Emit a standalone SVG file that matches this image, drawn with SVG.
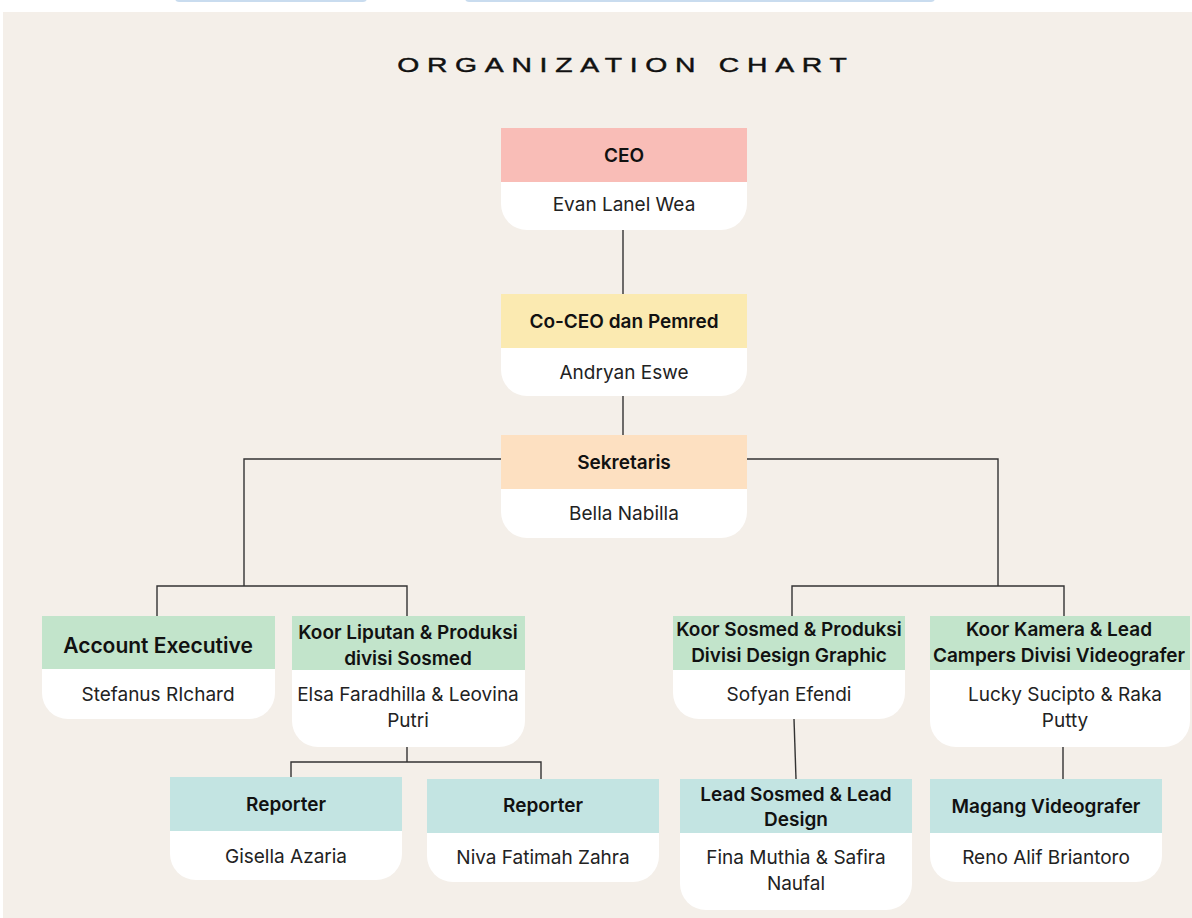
<svg xmlns="http://www.w3.org/2000/svg" width="1192" height="918" viewBox="0 0 1192 918">
<style>
.bg{fill:#f4efe9}
.body{fill:#ffffff}
.pink{fill:#f9bdb7}
.yellow{fill:#fbeab1}
.peach{fill:#fde0c1}
.green{fill:#c2e4cb}
.teal{fill:#c3e4e2}
.h{font-family:Inter,"Noto Sans",sans-serif;font-weight:600;font-size:19px;fill:#111;text-anchor:middle}
.b{font-family:Inter,"Noto Sans",sans-serif;font-size:19px;fill:#222;text-anchor:middle}
.title{font-family:"Liberation Sans",Arial,sans-serif;font-size:21px;fill:#111;stroke:#111;stroke-width:0.45;text-anchor:middle}
.conn{fill:none;stroke:#333;stroke-width:1.4}
</style>
<rect x="0" y="0" width="1192" height="918" fill="#ffffff"/>
<rect x="175" y="-6" width="192" height="8" rx="4" fill="#c9dcef"/>
<rect x="465" y="-6" width="470" height="8" rx="4" fill="#c9dcef"/>
<rect class="bg" x="3" y="12" width="1189" height="906"/>
<text class="title" transform="scale(1.35,1)" x="460.7" y="72" textLength="333" lengthAdjust="spacing">ORGANIZATION CHART</text>

<g id="connectors">
<path class="conn" d="M623 230 V294"/>
<path class="conn" d="M623 396 V435"/>
<path class="conn" d="M501 459 H244 V586"/>
<path class="conn" d="M157 616 V586 H407 V616"/>
<path class="conn" d="M747 459 H998 V586"/>
<path class="conn" d="M792 616 V586 H1064 V616"/>
<path class="conn" d="M407 747 V762"/>
<path class="conn" d="M291 777 V762 H541 V779"/>
<path class="conn" d="M794 719 L796 779"/>
<path class="conn" d="M1063 747 V779"/>
</g>

<g id="ceo">
<path class="body" d="M501 128 H747 V204 A26 26 0 0 1 721 230 H527 A26 26 0 0 1 501 204 Z"/>
<rect class="pink" x="501" y="128" width="246" height="54"/>
<text class="h" x="624" y="162">CEO</text>
<text class="b" x="624" y="211">Evan Lanel Wea</text>
</g>

<g id="coceo">
<path class="body" d="M501 294 H747 V370 A26 26 0 0 1 721 396 H527 A26 26 0 0 1 501 370 Z"/>
<rect class="yellow" x="501" y="294" width="246" height="54"/>
<text class="h" x="624" y="328">Co-CEO dan Pemred</text>
<text class="b" x="624" y="379">Andryan Eswe</text>
</g>

<g id="sekretaris">
<path class="body" d="M501 435 H747 V512 A26 26 0 0 1 721 538 H527 A26 26 0 0 1 501 512 Z"/>
<rect class="peach" x="501" y="435" width="246" height="54"/>
<text class="h" x="624" y="469">Sekretaris</text>
<text class="b" x="624" y="520">Bella Nabilla</text>
</g>

<g id="account-executive">
<path class="body" d="M42 616 H275 V693 A26 26 0 0 1 249 719 H68 A26 26 0 0 1 42 693 Z"/>
<rect class="green" x="42" y="616" width="233" height="53"/>
<text class="h" x="158" y="653" style="font-size:21px">Account Executive</text>
<text class="b" x="158" y="701">Stefanus RIchard</text>
</g>

<g id="koor-liputan">
<path class="body" d="M292 616 H525 V721 A26 26 0 0 1 499 747 H318 A26 26 0 0 1 292 721 Z"/>
<rect class="green" x="292" y="616" width="233" height="54"/>
<text class="h" x="408" y="639">Koor Liputan &amp; Produksi</text>
<text class="h" x="408" y="665">divisi Sosmed</text>
<text class="b" x="408" y="701">Elsa Faradhilla &amp; Leovina</text>
<text class="b" x="408" y="727">Putri</text>
</g>

<g id="koor-sosmed">
<path class="body" d="M673 616 H905 V693 A26 26 0 0 1 879 719 H699 A26 26 0 0 1 673 693 Z"/>
<rect class="green" x="673" y="616" width="232" height="54"/>
<text class="h" x="789" y="636">Koor Sosmed &amp; Produksi</text>
<text class="h" x="789" y="662">Divisi Design Graphic</text>
<text class="b" x="789" y="701">Sofyan Efendi</text>
</g>

<g id="koor-kamera">
<path class="body" d="M930 616 H1190 V721 A26 26 0 0 1 1164 747 H956 A26 26 0 0 1 930 721 Z"/>
<rect class="green" x="930" y="616" width="260" height="54"/>
<text class="h" x="1059" y="636">Koor Kamera &amp; Lead</text>
<text class="h" x="1059" y="662">Campers Divisi Videografer</text>
<text class="b" x="1065" y="701">Lucky Sucipto &amp; Raka</text>
<text class="b" x="1065" y="727">Putty</text>
</g>

<g id="reporter-1">
<path class="body" d="M170 777 H402 V854 A26 26 0 0 1 376 880 H196 A26 26 0 0 1 170 854 Z"/>
<rect class="teal" x="170" y="777" width="232" height="54"/>
<text class="h" x="286" y="811">Reporter</text>
<text class="b" x="286" y="863">Gisella Azaria</text>
</g>

<g id="reporter-2">
<path class="body" d="M427 779 H659 V856 A26 26 0 0 1 633 882 H453 A26 26 0 0 1 427 856 Z"/>
<rect class="teal" x="427" y="779" width="232" height="54"/>
<text class="h" x="543" y="812">Reporter</text>
<text class="b" x="543" y="864">Niva Fatimah Zahra</text>
</g>

<g id="lead-sosmed">
<path class="body" d="M680 779 H912 V884 A26 26 0 0 1 886 910 H706 A26 26 0 0 1 680 884 Z"/>
<rect class="teal" x="680" y="779" width="232" height="54"/>
<text class="h" x="796" y="801">Lead Sosmed &amp; Lead</text>
<text class="h" x="796" y="826">Design</text>
<text class="b" x="796" y="864">Fina Muthia &amp; Safira</text>
<text class="b" x="796" y="890">Naufal</text>
</g>

<g id="magang">
<path class="body" d="M930 779 H1162 V856 A26 26 0 0 1 1136 882 H956 A26 26 0 0 1 930 856 Z"/>
<rect class="teal" x="930" y="779" width="232" height="54"/>
<text class="h" x="1046" y="813">Magang Videografer</text>
<text class="b" x="1046" y="864">Reno Alif Briantoro</text>
</g>
</svg>
